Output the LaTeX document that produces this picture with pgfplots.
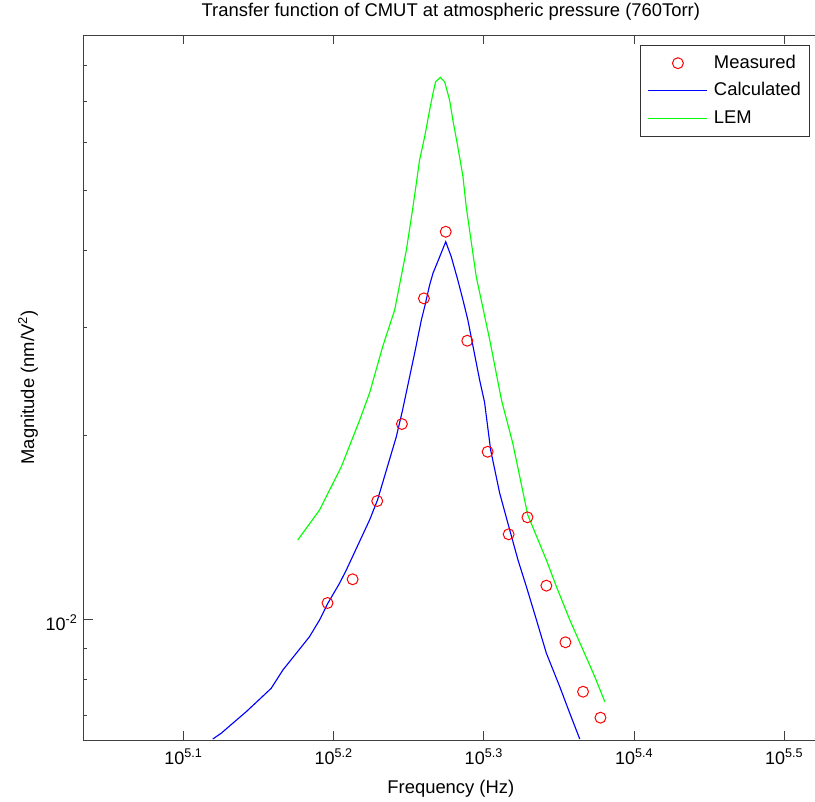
\documentclass[border=0pt]{standalone}
\usepackage{fontspec}
\setmainfont{Liberation Sans}
\usepackage{pgfplots}
\usepackage{pgfplotstable}
\pgfplotsset{compat=1.18}
\definecolor{mblue}{RGB}{0,0,255}
\definecolor{mgreen}{RGB}{0,255,0}
\definecolor{mred}{RGB}{255,0,0}
% columns: log10(frequency in Hz), log10(magnitude in nm/V^2)
\pgfplotstableread{
lx ly
5.1959 -1.9723
5.2126 -1.9337
5.2290 -1.8062
5.2454 -1.6808
5.2601 -1.4761
5.2746 -1.3676
5.2890 -1.5451
5.3025 -1.7259
5.3165 -1.8604
5.3290 -1.8327
5.3416 -1.9441
5.3543 -2.0363
5.3660 -2.1168
5.3776 -2.1591
}\measured
\pgfplotstableread{
lx ly
5.1195 -2.1938
5.1251 -2.1845
5.1328 -2.1682
5.1418 -2.1493
5.1506 -2.1292
5.1584 -2.1112
5.1662 -2.0814
5.1751 -2.0542
5.1839 -2.0272
5.1906 -2.0000
5.1961 -1.9728
5.2039 -1.9402
5.2084 -1.9186
5.2239 -1.8371
5.2292 -1.8046
5.2417 -1.7015
5.2459 -1.6580
5.2539 -1.5651
5.2584 -1.5114
5.2606 -1.4897
5.2639 -1.4544
5.2661 -1.4353
5.2706 -1.4083
5.2746 -1.3839
5.2783 -1.4083
5.2827 -1.4463
5.2861 -1.4788
5.2894 -1.5114
5.2972 -1.6091
5.3005 -1.6450
5.3045 -1.7231
5.3105 -1.7932
5.3172 -1.8534
5.3227 -1.9023
5.3283 -1.9458
5.3350 -2.0000
5.3416 -2.0542
5.3505 -2.1086
5.3572 -2.1520
5.3638 -2.1938
}\calculated
\pgfplotstableread{
lx ly
5.1761 -1.8697
5.1906 -1.8208
5.2051 -1.7503
5.2173 -1.6743
5.2239 -1.6303
5.2326 -1.5549
5.2406 -1.4951
5.2484 -1.3974
5.2528 -1.3269
5.2550 -1.2888
5.2572 -1.2508
5.2606 -1.2129
5.2639 -1.1694
5.2661 -1.1422
5.2679 -1.1233
5.2710 -1.1161
5.2739 -1.1233
5.2772 -1.1531
5.2794 -1.1857
5.2827 -1.2292
5.2861 -1.2780
5.2883 -1.3269
5.2950 -1.4409
5.3039 -1.5440
5.3117 -1.6417
5.3192 -1.7117
5.3292 -1.8290
5.3416 -1.9023
5.3483 -1.9458
5.3572 -2.0000
5.3660 -2.0489
5.3738 -2.0923
5.3805 -2.1331
}\lem
\begin{document}
\begin{tikzpicture}
\begin{axis}[
  at={(0pt,0pt)}, anchor=south west, scale only axis,
  width=550.875pt, height=528.75pt,
  xmode=log, ymode=log,
  xmin=108010, xmax=333060, ymin=0.006375, ymax=0.08971,
  xtick={125892.5,158489.3,199526.2,251188.6,316227.8},
  xticklabels={10\textsuperscript{5.1},10\textsuperscript{5.2},10\textsuperscript{5.3},10\textsuperscript{5.4},10\textsuperscript{5.5}},
  ytick={0.01}, yticklabels={10\textsuperscript{-2}},
  minor ytick={0.007,0.008,0.009,0.02,0.03,0.04,0.05,0.06,0.07,0.08},
  xminorticks=false,
  xtick pos=both, ytick pos=left, tick align=inside,
  major tick length=6.75pt, minor tick length=2.6pt,
  axis line style={black!75, line width=0.75pt},
  every tick/.style={black!75, line width=0.75pt},
  ticklabel style={font=\fontsize{13.5}{15}\selectfont},
  xticklabel style={yshift=-3pt},
  yticklabel style={xshift=-1pt, yshift=-2pt},
  every axis title shift=0pt,
  title={Transfer function of CMUT at atmospheric pressure (760Torr)},
  title style={at={(axis description cs:0.5,1.0326)}, anchor=center, yshift=0pt, font=\fontsize{13.8}{16}\selectfont},
  xlabel={Frequency (Hz)},
  xlabel style={at={(axis description cs:0.5,-0.0695)}, anchor=center, font=\fontsize{13.8}{16}\selectfont},
  ylabel={Magnitude (nm/V\textsuperscript{2})},
  ylabel style={at={(axis description cs:-0.0756,0.5)}, anchor=center, font=\fontsize{13.8}{16}\selectfont},
  legend image code/.code={\draw[mark repeat=2,mark phase=2,#1] plot coordinates {(0pt,0pt) (22.125pt,0pt) (44.25pt,0pt)};},
  legend cell align=left,
  legend style={at={(axis description cs:0.9891,0.9858)}, anchor=north east,
    draw=black!80, line width=0.75pt, inner xsep=5.5pt, inner ysep=5.5pt,
    row sep=5.25pt, column sep=3.5pt,
    font=\fontsize{13.8}{16}\selectfont,
    nodes={inner sep=1pt, text height=10.5pt, text depth=3pt}},
]
\addplot[only marks, mark=o, mark size=4.1pt, mred, line width=0.75pt]
  table[x expr={pow(10,\thisrow{lx})}, y expr={pow(10,\thisrow{ly})}] {\measured};
\addlegendentry{Measured}
\addplot[mblue, line width=0.85pt, no marks]
  table[x expr={pow(10,\thisrow{lx})}, y expr={pow(10,\thisrow{ly})}] {\calculated};
\addlegendentry{Calculated}
\addplot[mgreen, line width=0.85pt, no marks]
  table[x expr={pow(10,\thisrow{lx})}, y expr={pow(10,\thisrow{ly})}] {\lem};
\addlegendentry{LEM}
\end{axis}
\pgfresetboundingbox
\path[use as bounding box] (-62.625pt,-45.75pt) rectangle (548.625pt,555pt);
\end{tikzpicture}
\end{document}
